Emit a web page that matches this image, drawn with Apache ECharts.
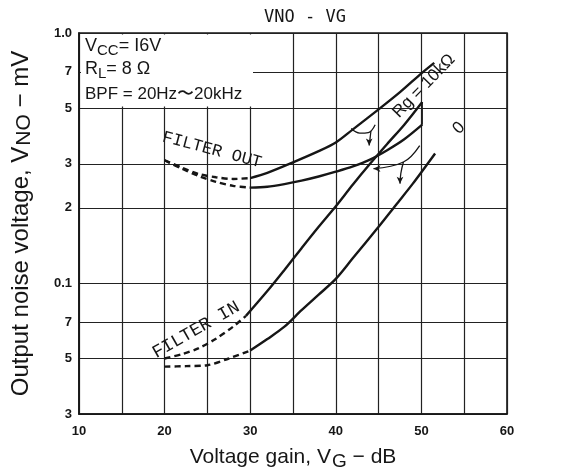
<!DOCTYPE html>
<html><head><meta charset="utf-8">
<script src="https://cdn.jsdelivr.net/npm/echarts@6/dist/echarts.min.js"></script>
<style>html,body{margin:0;padding:0;background:#fff}#c{width:562px;height:473px}</style>
</head><body><div id="c"></div>
<script>
// ---- data ----
const xTickValues = [10, 20, 30, 40, 50, 60];
const yTicks = [0.03, 0.05, 0.07, 0.1, 0.2, 0.3, 0.5, 0.7, 1.0];
const yTickLabels = ['3', '5', '7', '0.1', '2', '3', '5', '7', '1.0'];

// FILTER OUT, Rg = 10kΩ
const outRg10kDashed = [[20,0.31],[22,0.29],[24,0.273],[26,0.265],[28,0.261],[30,0.263]];
const outRg10kSolid  = [[30,0.263],[32,0.276],[35,0.304],[38,0.337],[40,0.365],[42,0.412],[45,0.495],[47.5,0.58],[50,0.69],[51.5,0.76]];
// FILTER OUT, Rg = 0
const outRg0Dashed = [[20,0.31],[22,0.287],[24,0.268],[26,0.254],[28,0.245],[30,0.241]];
const outRg0Solid  = [[30,0.241],[32,0.243],[34,0.249],[36,0.257],[38,0.267],[40,0.279],[42,0.293],[44,0.312],[46,0.34],[48,0.376],[50.1,0.43]];
// FILTER IN, Rg = 10kΩ
const inRg10kDashed = [[20,0.05],[22,0.052],[24,0.055],[26,0.06],[28,0.067],[29.5,0.074]];
const inRg10kSolid  = [[29.5,0.074],[32,0.093],[34,0.113],[36,0.138],[38,0.168],[40,0.203],[42,0.248],[44,0.3],[46,0.36],[48,0.43],[50.1,0.53]];
// FILTER IN, Rg = 0
const inRg0Dashed = [[20,0.0464],[22.5,0.0466],[25,0.047],[27.5,0.05],[30,0.0538]];
const inRg0Solid  = [[30,0.0538],[32,0.0598],[34,0.067],[36,0.078],[38,0.09],[40,0.104],[42,0.126],[45,0.168],[47,0.205],[49,0.25],[51.6,0.33]];

// leader lines of the labels
const leaderRgArc   = [[41.8,0.415],[42.8,0.398],[43.8,0.4],[44.6,0.43]];
const leaderRgArrow = [[44.1,0.405],[43.9,0.355]];
const leaderEndBar  = [[50.1,0.43],[50.1,0.53]];
const leader0Line   = [[49.8,0.355],[47.9,0.305],[44.4,0.287]];
const leader0Arrow  = [[47.9,0.305],[47.6,0.275],[47.5,0.25]];

const INK = '#161616';

function curve(data, dashed) {
  return {
    type: 'line', data: data, showSymbol: false, smooth: 0.3, silent: true,
    lineStyle: { color: INK, width: 2.4, type: dashed ? [6, 4] : 'solid' },
    z: 3
  };
}
function leader(data, arrowRotate) {
  const d = data.map((p, i) => {
    if (arrowRotate !== undefined && i === data.length - 1) {
      return { value: p, symbol: 'arrow', symbolSize: [5, 7], symbolRotate: arrowRotate,
               itemStyle: { color: INK } };
    }
    return { value: p, symbol: 'none' };
  });
  return {
    type: 'line', data: d, showSymbol: true, smooth: 0.4, silent: true,
    lineStyle: { color: INK, width: 1.3 }, itemStyle: { color: INK }, z: 3
  };
}

const chart = echarts.init(document.getElementById('c'), null, { renderer: 'canvas' });

function yLabel(v) {
  let best = 0, bd = Infinity;
  yTicks.forEach((t, i) => {
    const d = Math.abs(Math.log10(t) - Math.log10(v));
    if (d < bd) { bd = d; best = i; }
  });
  return yTickLabels[best];
}

const subRich = { s: { fontSize: 19, fontFamily: 'Liberation Sans', color: INK, verticalAlign: 'bottom', lineHeight: 28, padding: [7, 0, 0, 1] } };

chart.setOption({
  animation: false,
  backgroundColor: '#fff',
  grid: { left: 79, top: 33, width: 428, height: 381, show: true, outerBoundsMode: 'none', containLabel: false,
          borderColor: INK, borderWidth: 1.6, backgroundColor: 'transparent' },
  xAxis: {
    type: 'value', min: 10, max: 60, interval: 5,
    axisLine: { show: true, lineStyle: { color: INK, width: 1.6 } },
    axisTick: { show: false },
    splitLine: { show: true, lineStyle: { color: '#222', width: 1.2 } },
    axisLabel: {
      formatter: v => (xTickValues.indexOf(v) >= 0 ? String(v) : ''),
      color: INK, fontWeight: 'bold', fontSize: 13, margin: 11, fontFamily: 'Liberation Sans'
    },
    name: 'Voltage gain, V{s|G} − dB',
    nameLocation: 'middle', nameGap: 25,
    nameTextStyle: {
      color: INK, fontSize: 21, fontFamily: 'Liberation Sans', lineHeight: 28,
      rich: subRich
    }
  },
  yAxis: {
    type: 'log', logBase: 10, min: 0.03, max: 1.0,
    axisLine: { show: true, lineStyle: { color: INK, width: 1.6 } },
    axisTick: { show: false, customValues: yTicks },
    splitLine: { show: true, lineStyle: { color: '#222', width: 1.2 } },
    axisLabel: {
      customValues: yTicks,
      formatter: v => yLabel(v),
      color: INK, fontWeight: 'bold', fontSize: 13, margin: 7, fontFamily: 'Liberation Sans'
    },
    name: 'Output noise voltage, V{s|NO} − mV',
    nameLocation: 'middle', nameGap: 44, nameRotate: 90,
    nameTextStyle: {
      color: INK, fontSize: 24, fontFamily: 'Liberation Sans', lineHeight: 28,
      rich: { s: { fontSize: 21, fontFamily: 'Liberation Sans', color: INK, verticalAlign: 'bottom', lineHeight: 28, padding: [7, 0, 0, 1] } }
    }
  },
  graphic: [
    { type: 'rect', shape: { x: 81, y: 34.5, width: 172, height: 72 }, style: { fill: '#fff' }, z: 1, silent: true },
    { type: 'text', x: 305, y: 18, z: 10,
      style: { text: 'VNO - VG', font: '17px "DejaVu Sans Mono"', fill: INK, align: 'center', verticalAlign: 'middle' } },
    { type: 'text', x: 85, y: 46, z: 10,
      style: { text: 'V{s|CC}= I6V', fontSize: 18, fontFamily: 'Liberation Sans', fill: INK, verticalAlign: 'middle',
        rich: { s: { fontSize: 15, fontFamily: 'Liberation Sans', fill: INK, verticalAlign: 'bottom', padding: [10, 0, 0, 0] } } } },
    { type: 'text', x: 85, y: 69, z: 10,
      style: { text: 'R{s|L}= 8 Ω', fontSize: 18, fontFamily: 'Liberation Sans', fill: INK, verticalAlign: 'middle',
        rich: { s: { fontSize: 15, fontFamily: 'Liberation Sans', fill: INK, verticalAlign: 'bottom', padding: [10, 0, 0, 0] } } } },
    { type: 'text', x: 85, y: 94, z: 10,
      style: { text: 'BPF = 20Hz〜20kHz', fontSize: 17, fontFamily: 'Liberation Sans', fill: INK, verticalAlign: 'middle' } },
    { type: 'text', x: 212, y: 150, rotation: -0.26, z: 10,
      style: { text: 'FILTER OUT', font: '17px "Liberation Mono"', fill: INK, align: 'center', verticalAlign: 'middle' } },
    { type: 'text', x: 196, y: 330, rotation: 0.52, z: 10,
      style: { text: 'FILTER IN', font: '18px "Liberation Mono"', fill: INK, align: 'center', verticalAlign: 'middle' } },
    { type: 'text', x: 424, y: 86, rotation: 0.8, z: 10,
      style: { text: 'Rg = 10kΩ', font: '17px "Liberation Sans"', fill: INK, align: 'center', verticalAlign: 'middle' } },
    { type: 'text', x: 459, y: 128, rotation: 0.8, z: 10,
      style: { text: '0', font: '17px "Liberation Sans"', fill: INK, align: 'center', verticalAlign: 'middle' } }
  ],
  series: [
    curve(outRg10kDashed, true), curve(outRg10kSolid, false),
    curve(outRg0Dashed, true), curve(outRg0Solid, false),
    curve(inRg10kDashed, true), curve(inRg10kSolid, false),
    curve(inRg0Dashed, true), curve(inRg0Solid, false),
    leader(leaderRgArc), leader(leaderRgArrow, 180), leader(leaderEndBar),
    leader(leader0Line, 90), leader(leader0Arrow, 180)
  ]
});
</script></body></html>
